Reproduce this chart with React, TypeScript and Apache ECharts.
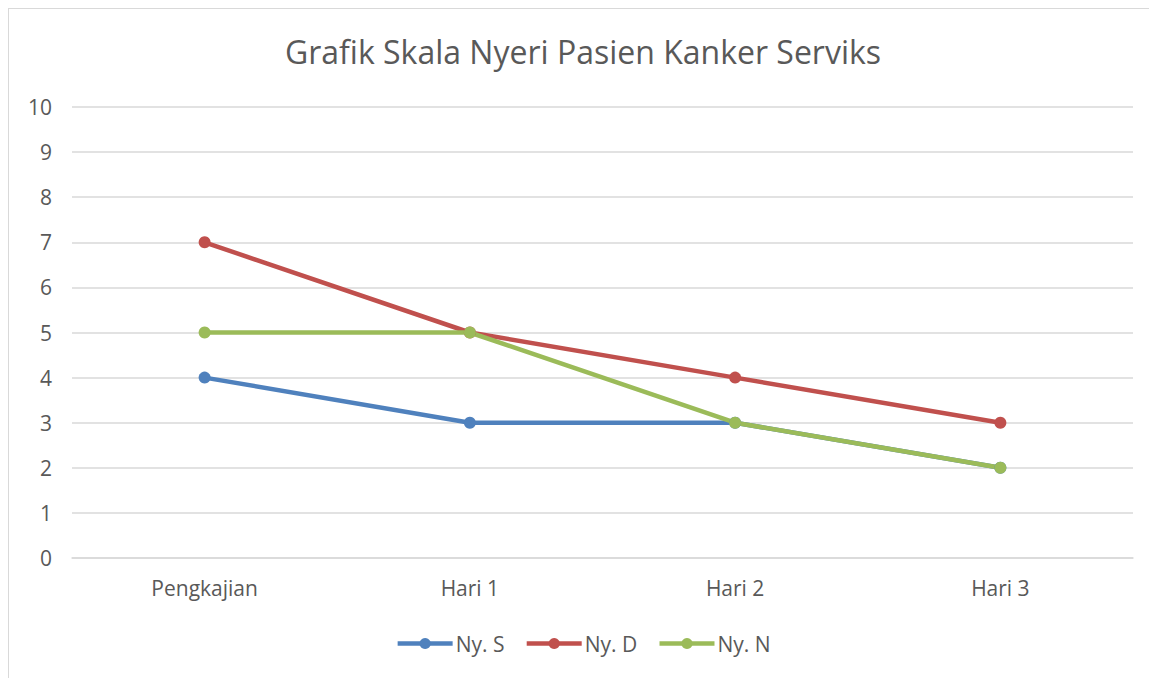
import React, { useEffect, useRef } from "react";
import * as echarts from "echarts";

const categories = ["Pengkajian", "Hari 1", "Hari 2", "Hari 3"];
const seriesNames = ["Ny. S", "Ny. D", "Ny. N"];
const nyS = [4, 3, 3, 2];
const nyD = [7, 5, 4, 3];
const nyN = [5, 5, 3, 2];
const colors = ["#4F81BD", "#C0504D", "#9BBB59"];

export default function App() {
  const ref = useRef<HTMLDivElement>(null);
  useEffect(() => {
    if (!ref.current) return;
    const chart = echarts.init(ref.current, undefined, { renderer: "svg" });
    const font = "'Open Sans', sans-serif";
    const values = [nyS, nyD, nyN];
    chart.setOption({
      animation: false,
      color: colors,
      title: {
        text: "Grafik Skala Nyeri Pasien Kanker Serviks",
        left: "center",
        top: 21,
        textStyle: { color: "#595959", fontSize: 32, fontWeight: "normal", fontFamily: font },
      },
      legend: {
        data: seriesNames,
        bottom: 19,
        left: "center",
        itemWidth: 55,
        itemHeight: 14,
        itemGap: 20,
        lineStyle: { width: 4.5 },
        textStyle: { color: "#595959", fontSize: 21, fontFamily: font, padding: [0, 0, 0, -2] },
      },
      grid: { left: 63, right: 24, top: 98, bottom: 120 },
      xAxis: {
        type: "category",
        data: categories,
        boundaryGap: true,
        axisLine: { show: true, lineStyle: { color: "#d9d9d9", width: 1.5 } },
        axisTick: { show: false },
        axisLabel: { color: "#595959", fontSize: 21, fontFamily: font, margin: 19 },
      },
      yAxis: {
        type: "value",
        min: 0,
        max: 10,
        interval: 1,
        axisLine: { show: false },
        axisTick: { show: false },
        axisLabel: { color: "#595959", fontSize: 21, fontFamily: font, margin: 20 },
        splitLine: { lineStyle: { color: "#d9d9d9", width: 1.5 } },
      },
      series: seriesNames.map((name, i) => ({
        name,
        type: "line",
        data: values[i],
        symbol: "circle",
        symbolSize: 12,
        lineStyle: { width: 4.5, color: colors[i] },
        itemStyle: { color: colors[i] },
      })),
    });
    return () => chart.dispose();
  }, []);
  return (
    <div
      ref={ref}
      style={{
        width: 1149,
        height: 670,
        boxSizing: "border-box",
        borderTop: "1px solid #d9d9d9",
        borderLeft: "1px solid #d9d9d9",
        background: "#fff",
      }}
    />
  );
}
